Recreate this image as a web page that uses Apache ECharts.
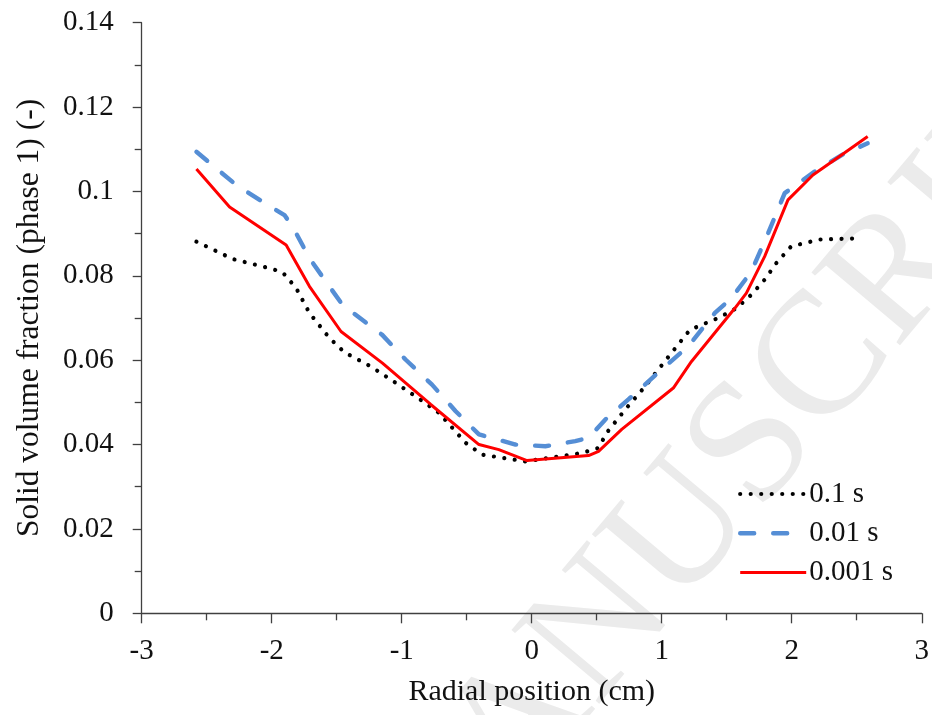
<!DOCTYPE html>
<html>
<head>
<meta charset="utf-8">
<script src="https://cdn.jsdelivr.net/npm/echarts@6/dist/echarts.min.js"></script>
<style>
html,body{margin:0;padding:0;background:#fff;}
#chart{width:932px;height:715px;}
</style>
</head>
<body>
<div id="chart"></div>
<script>
var seriesNames = ['0.1 s', '0.01 s', '0.001 s'];

var x01 = [-2.579,-2.301,-1.992,-1.915,-1.812,-1.710,-1.557,-1.442,-1.237,-1.045,-0.841,-0.713,-0.508,-0.381,-0.151,-0.048,0.386,0.514,0.577,0.719,0.872,1.064,1.217,1.434,1.574,1.689,1.792,1.881,1.996,2.214,2.540];
var y01 = [0.0881,0.0840,0.0816,0.0808,0.0771,0.0712,0.0653,0.0619,0.0585,0.0546,0.0503,0.0475,0.0404,0.0376,0.0365,0.0360,0.0380,0.0392,0.0428,0.0483,0.0538,0.0613,0.0672,0.0700,0.0723,0.0755,0.0791,0.0830,0.0870,0.0886,0.0889];

var x001 = [-2.579,-2.272,-2.042,-1.902,-1.840,-1.710,-1.557,-1.455,-1.150,-0.969,-0.767,-0.585,-0.406,-0.125,0.105,0.335,0.437,0.565,0.744,1.025,1.204,1.409,1.536,1.689,1.817,1.946,2.176,2.406,2.584];
var y001 = [0.1094,0.1015,0.0970,0.0944,0.0917,0.0842,0.0775,0.0731,0.0660,0.0601,0.0542,0.0479,0.0424,0.0400,0.0396,0.0408,0.0416,0.0459,0.0507,0.0585,0.0633,0.0712,0.0747,0.0810,0.0900,0.0996,0.1047,0.1090,0.1114];

var x0001 = [-2.579,-2.324,-1.889,-1.710,-1.467,-1.148,-0.777,-0.406,-0.253,-0.036,0.437,0.514,0.692,1.089,1.229,1.562,1.651,1.792,1.971,2.163,2.380,2.584];
var y0001 = [0.1053,0.0963,0.0873,0.0775,0.0668,0.0593,0.0495,0.0400,0.0388,0.0362,0.0374,0.0384,0.0436,0.0534,0.0597,0.0723,0.0759,0.0846,0.0980,0.1039,0.1086,0.1130];

var xTicks = [-3,-2,-1,0,1,2,3];
var yTicks = ['0','0.02','0.04','0.06','0.08','0.1','0.12','0.14'];

function pairs(xs, ys){ return xs.map(function(v,i){ return [v, ys[i]]; }); }

var FONT = 'Liberation Serif';
var chart = echarts.init(document.getElementById('chart'), null, {renderer:'canvas'});
var axisCol = '#404040';

var styles = [
  {color: '#000000', width: 4.2, type: [0.01, 10.5], cap: 'round'},
  {color: '#558ed5', width: 4.4, type: [14, 19], cap: 'round'},
  {color: '#ff0000', width: 3, type: 'solid', cap: 'butt'}
];

chart.setOption({
  backgroundColor: '#ffffff',
  animation: false,
  graphic: [{
    type: 'text',
    z: 0,
    x: 742, y: 462,
    rotation: 50 * Math.PI / 180,
    style: {
      text: 'MANUSCRIPT',
      font: '175px "Liberation Serif"',
      fill: '#ebebeb',
      textAlign: 'center',
      textVerticalAlign: 'middle'
    }
  }],
  grid: {left: 141.7, right: 7.7, top: 22.7, bottom: 101.7, containLabel: false},
  legend: {
    orient: 'vertical',
    left: 733, top: 474,
    itemWidth: 66, itemHeight: 14, itemGap: 9.3,
    itemStyle: {opacity: 0},
    textStyle: {fontFamily: FONT, fontSize: 29, color: '#111', lineHeight: 30, padding: [0,0,0,-2]},
    data: seriesNames.map(function(n, i){
      return {name: n, itemStyle: {opacity: 0}, lineStyle: styles[i]};
    })
  },
  xAxis: {
    type: 'value', min: -3, max: 3, interval: 1,
    name: 'Radial position (cm)', nameLocation: 'middle', nameGap: 64,
    nameTextStyle: {fontFamily: FONT, fontSize: 30, color: '#111'},
    axisLine: {onZero: false, lineStyle: {color: axisCol, width: 1.3}},
    axisTick: {show: true, inside: false, length: 10, lineStyle: {color: axisCol, width: 1.3}},
    minorTick: {show: true, splitNumber: 2, length: 7, lineStyle: {color: axisCol, width: 1.3}},
    splitLine: {show: false},
    axisLabel: {fontFamily: FONT, fontSize: 29, color: '#111', margin: 24,
      formatter: function(v){ return String(xTicks[xTicks.indexOf(Math.round(v))]); }}
  },
  yAxis: {
    type: 'value', min: 0, max: 0.14, interval: 0.02,
    name: 'Solid volume fraction (phase 1) (-)', nameLocation: 'middle', nameGap: 96, nameRotate: 90,
    nameTextStyle: {fontFamily: FONT, fontSize: 31.5, color: '#111'},
    axisLine: {show: true, onZero: false, lineStyle: {color: axisCol, width: 1.3}},
    axisTick: {show: true, inside: false, length: 9, lineStyle: {color: axisCol, width: 1.3}},
    minorTick: {show: true, splitNumber: 2, length: 7, lineStyle: {color: axisCol, width: 1.3}},
    splitLine: {show: false},
    axisLabel: {fontFamily: FONT, fontSize: 29, color: '#111', margin: 28,
      formatter: function(v){ return yTicks[Math.round(v / 0.02)]; }}
  },
  series: [
    {name: seriesNames[0], type: 'line', data: pairs(x01, y01), symbol: 'none', z: 3,
     color: '#000000', lineStyle: styles[0]},
    {name: seriesNames[1], type: 'line', data: pairs(x001, y001), symbol: 'none', z: 4,
     color: '#558ed5', lineStyle: styles[1]},
    {name: seriesNames[2], type: 'line', data: pairs(x0001, y0001), symbol: 'none', z: 5,
     color: '#ff0000', lineStyle: styles[2]}
  ]
});
</script>
</body>
</html>
